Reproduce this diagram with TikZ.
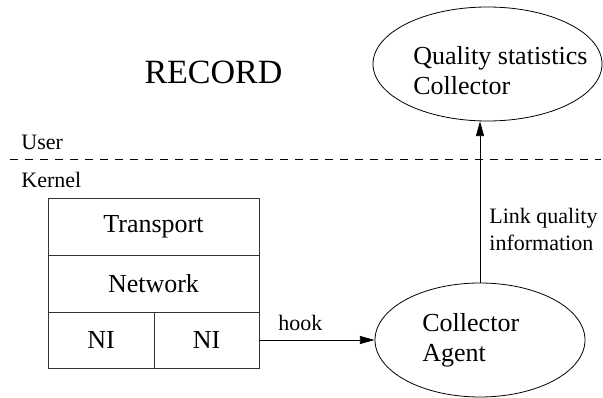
\documentclass[tikz,border=0pt]{standalone}
\usepackage{fontspec}
\setmainfont{Liberation Serif}
\usetikzlibrary{shapes.geometric,arrows.meta}
\begin{document}
\begin{tikzpicture}[x=0.75pt,y=-0.75pt,
  line width=0.6pt,
  bigtext/.style={font=\fontsize{19.5pt}{22.5pt}\selectfont, inner sep=0pt},
  smalltext/.style={font=\fontsize{16.5pt}{20.25pt}\selectfont, inner sep=0pt},
  layer/.style={draw=black!80, minimum width=158.25pt, minimum height=42.75pt,
    inner sep=0pt, font=\fontsize{19.5pt}{22.5pt}\selectfont},
  nicell/.style={draw=black!80, minimum height=42pt, inner sep=0pt,
    font=\fontsize{19.5pt}{22.5pt}\selectfont},
  blob/.style={draw, ellipse, inner sep=0pt},
  arr/.style={-{Triangle[length=11pt,width=6pt]}}]
\useasboundingbox (0,0) rectangle (603,398);

% title and domain labels
\node[font=\fontsize{25.5pt}{30pt}\selectfont, inner sep=0pt, anchor=base] (title) at (213.5,84) {RECORD};
\node[smalltext, anchor=base west] (user) at (21,150) {User};
\node[smalltext, anchor=base west] (kernel) at (21,188) {Kernel};

% user/kernel boundary
\coordinate (bl) at (10,159);
\coordinate (br) at (601,159);
\draw[dash pattern=on 6pt off 5.25pt] (bl) -- (br);

% protocol stack
\node[layer] (transport) at (153.5,226.5) {Transport};
\node[layer] (network) at (153.5,283.5) {Network};
\node[nicell, minimum width=79.5pt] (ni1) at (101,340) {NI};
\node[nicell, minimum width=78.75pt] (ni2) at (206.5,340) {NI};

% collectors (multi-line text is anchored at the baseline of its last line)
\node[blob, minimum width=171.75pt, minimum height=85.5pt] (qsc) at (487.5,64) {};
\node[bigtext, align=left, anchor=base west] (qsctext) at (413,95) {Quality statistics\\Collector};
\node[blob, minimum width=157.5pt, minimum height=85.5pt] (agent) at (480,340) {};
\node[bigtext, align=left, anchor=base west] (agenttext) at (422,362) {Collector\\Agent};

% connectors
\draw[arr] (ni2.east) -- (agent.west);
\node[smalltext, anchor=base west] (hook) at (278,331) {hook};
\draw[arr] (agent.north) -- (agent.north |- qsc.south);
\node[smalltext, align=left, anchor=base west] (linkq) at (489,251) {Link quality\\information};
\end{tikzpicture}
\end{document}
